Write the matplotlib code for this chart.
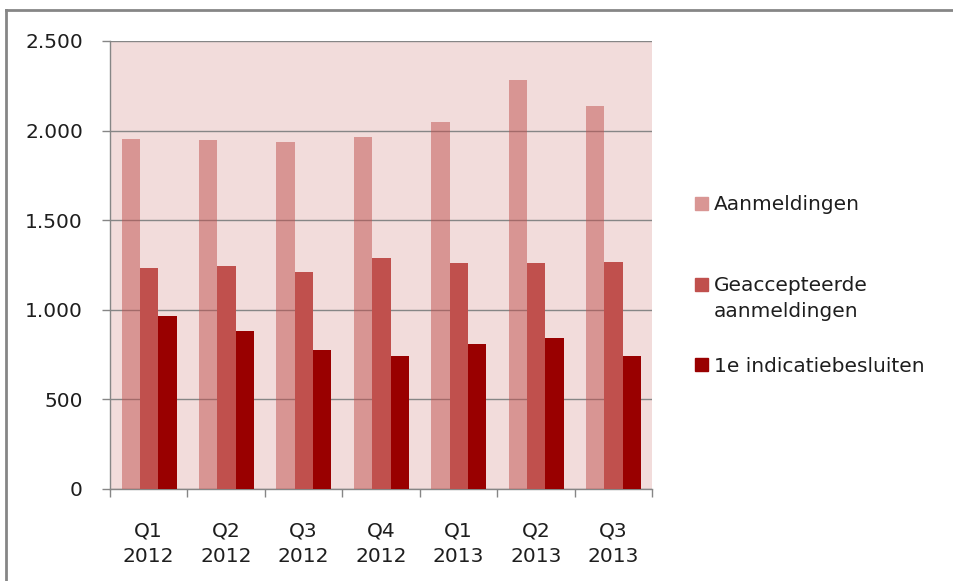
import matplotlib
matplotlib.use("Agg")
import matplotlib.pyplot as plt
import numpy as np
from matplotlib.ticker import FuncFormatter, MultipleLocator, FixedLocator
from matplotlib.patches import Rectangle
from matplotlib.lines import Line2D

plt.rcParams['font.family'] = ['DejaVu Sans']

categories = ["Q1\n2012", "Q2\n2012", "Q3\n2012", "Q4\n2012", "Q1\n2013", "Q2\n2013", "Q3\n2013"]
series_names = ["Aanmeldingen", "Geaccepteerde\naanmeldingen", "1e indicatiebesluiten"]
aanmeldingen = [1952, 1946, 1937, 1966, 2046, 2280, 2137]
geaccepteerd = [1232, 1245, 1209, 1287, 1259, 1259, 1267]
indicatie = [967, 881, 773, 744, 811, 844, 744]
series = [aanmeldingen, geaccepteerd, indicatie]
colors = ["#C0504D", "#C0504D", "#990000"]
alphas = [0.5, 1.0, 1.0]
legend_colors = ["#D99694", "#C0504D", "#990000"]

FS = 14.5
TXT = "#1E1E1E"
GRID = "#868686"

fig = plt.figure(figsize=(9.54, 5.81), dpi=100)
ax = fig.add_axes([110/954, 1-489/581, (652-110)/954, (489-41)/581])
ax.set_facecolor("#F2DCDB")

x = np.arange(len(categories))
w = 0.237
for i, (vals, c, a) in enumerate(zip(series, colors, alphas)):
    ax.bar(x + (i-1)*w + 0.005, vals, width=w, color=c, alpha=a, zorder=3, linewidth=0)

ax.set_xlim(-0.5, len(categories)-0.5)
ax.set_ylim(0, 2500)
ax.yaxis.set_major_locator(MultipleLocator(500))
ax.yaxis.set_major_formatter(FuncFormatter(lambda v, p: f"{int(v):,}".replace(",", ".")))
ax.set_axisbelow(True)
ax.grid(axis='y', color=GRID, linewidth=1.0, zorder=1)

ax.set_xticks(x)
ax.set_xticklabels(categories, fontsize=FS, color=TXT, linespacing=1.42)
ax.xaxis.set_minor_locator(FixedLocator(np.arange(-0.5, len(categories), 1)))
ax.tick_params(axis='x', which='major', length=0, pad=23.5)
ax.tick_params(axis='x', which='minor', length=6, color=GRID, width=1)
ax.tick_params(axis='y', length=5.8, color=GRID, width=1, labelsize=FS, labelcolor=TXT, pad=13.7)

for s in ['top', 'right']:
    ax.spines[s].set_visible(False)
for s in ['left', 'bottom']:
    ax.spines[s].set_color(GRID)
    ax.spines[s].set_linewidth(1)

# legend (manual layout matching the original's spacing)
sq_centers = [203, 284, 364]
text_tops = [195.5, 276.5, 357]
for name, c, yc, yt in zip(series_names, legend_colors, sq_centers, text_tops):
    fig.patches.append(Rectangle((695/954, 1-(yc+6.5)/581), 13/954, 13/581,
                                 transform=fig.transFigure, color=c, figure=fig))
    fig.text(714/954, 1-yt/581, name, fontsize=FS, color=TXT,
             va='top', ha='left', linespacing=1.42)

# chart border
fig.add_artist(Line2D([6/954, 1], [1-10/581, 1-10/581], transform=fig.transFigure, color=GRID, linewidth=2))
fig.add_artist(Line2D([6/954, 6/954], [0, 1-10/581], transform=fig.transFigure, color=GRID, linewidth=2))

fig.savefig("out.png", dpi=100)
